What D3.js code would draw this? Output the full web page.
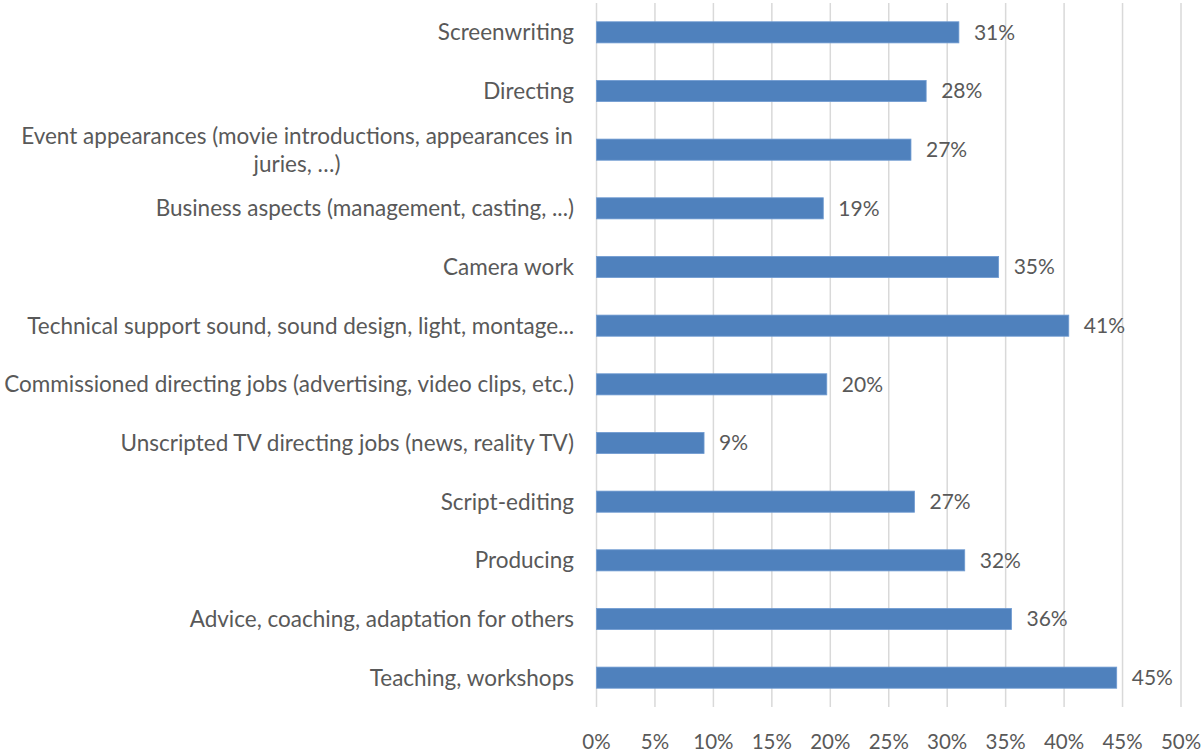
<!DOCTYPE html>
<html><head><meta charset="utf-8">
<script src="https://cdn.jsdelivr.net/npm/d3@7"></script>
<style>body{margin:0;background:#fff}svg{display:block}text{font-family:Lato,"Open Sans",sans-serif;fill:#595959}</style>
</head><body><svg id="c" width="1203" height="753"></svg>
<script>
const categories = ["Screenwriting","Directing","Event appearances (movie introductions, appearances in juries, …)","Business aspects (management, casting, ...)","Camera work","Technical support sound, sound design, light, montage...","Commissioned directing jobs (advertising, video clips, etc.)","Unscripted TV directing jobs (news, reality TV)","Script-editing","Producing","Advice, coaching, adaptation for others","Teaching, workshops"];
const values = [31.0,28.2,26.9,19.4,34.4,40.4,19.7,9.2,27.2,31.5,35.5,44.5];
const labels = ["31%","28%","27%","19%","35%","41%","20%","9%","27%","32%","36%","45%"];
const wrapped = {"Event appearances (movie introductions, appearances in juries, …)":["Event appearances (movie introductions, appearances in","juries, …)"]};
const ticks = [0,5,10,15,20,25,30,35,40,45,50];

const svg = d3.select("#c");
const m = {left:596.5, right:1181, top:3, bottom:707};
const x = d3.scaleLinear().domain([0,50]).range([m.left,m.right]);
const y = d3.scaleBand().domain(categories).range([m.top,m.bottom]).paddingInner(0.64).paddingOuter(0.32);

svg.append("g").selectAll("line").data(ticks).join("line")
  .attr("x1",d=>x(d)).attr("x2",d=>x(d)).attr("y1",m.top).attr("y2",m.bottom)
  .attr("stroke","#d9d9d9").attr("stroke-width",1.5);

svg.append("g").selectAll("text").data(ticks).join("text")
  .attr("x",d=>x(d)).attr("y",742).attr("dy","0.35em").attr("text-anchor","middle")
  .attr("font-size",20.5).text(d=>d+"%");

svg.append("g").selectAll("rect").data(values).join("rect")
  .attr("x",x(0)).attr("y",(d,i)=>y(categories[i]))
  .attr("width",d=>x(d)-x(0)).attr("height",y.bandwidth())
  .attr("fill","#4f81bd").attr("stroke","#6f9bd1").attr("stroke-width",0.8);

svg.append("g").selectAll("text").data(values).join("text")
  .attr("x",d=>x(d)+15).attr("y",(d,i)=>y(categories[i])+y.bandwidth()/2).attr("dy","0.35em")
  .attr("font-size",21).text((d,i)=>labels[i]);

const lg = svg.append("g");
categories.forEach((c,i)=>{
  const cy = y(c)+y.bandwidth()/2;
  if (wrapped[c]) {
    const lines = wrapped[c];
    const t = lg.append("text").attr("font-size",22.5).attr("text-anchor","middle");
    const lh = 28;
    lines.forEach((l,j)=>{
      t.append("tspan").attr("x",297).attr("y",cy+(j-(lines.length-1)/2)*lh).attr("dy","0.35em").text(l);
    });
  } else {
    lg.append("text").attr("x",574).attr("y",cy).attr("dy","0.35em").attr("text-anchor","end")
      .attr("font-size",22.5).text(c);
  }
});
</script></body></html>
